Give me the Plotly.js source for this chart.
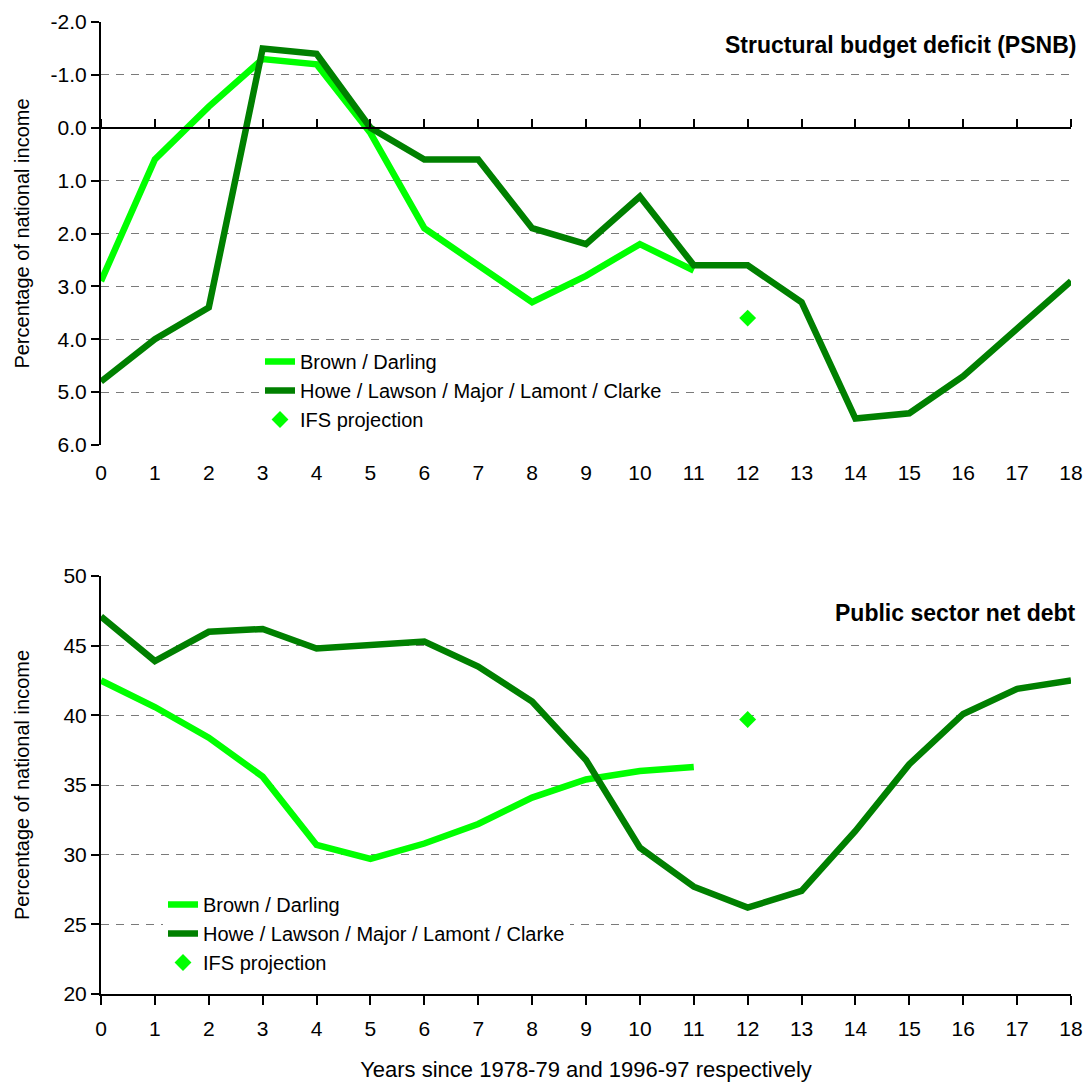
<!DOCTYPE html>
<html>
<head>
<meta charset="utf-8">
<script src="https://cdn.plot.ly/plotly-3.0.1.min.js"></script>
<style>html,body{margin:0;padding:0;background:#fff;}#chart{width:1084px;height:1084px;}</style>
</head>
<body>
<div id="chart"></div>
<script>
// ---- data ----
const years = [0,1,2,3,4,5,6,7,8,9,10,11,12,13,14,15,16,17,18];
const brownYears = [0,1,2,3,4,5,6,7,8,9,10,11];
const deficitBrown = [2.9,0.6,-0.4,-1.3,-1.2,0.1,1.9,2.6,3.3,2.8,2.2,2.7];
const deficitHowe = [4.8,4.0,3.4,-1.5,-1.4,0.0,0.6,0.6,1.9,2.2,1.3,2.6,2.6,3.3,5.5,5.4,4.7,3.8,2.9];
const debtBrown = [42.5,40.6,38.4,35.6,30.7,29.7,30.8,32.2,34.1,35.4,36.0,36.3];
const debtHowe = [47.1,43.9,46.0,46.2,44.8,45.1,45.3,43.5,41.0,36.8,30.5,27.7,26.2,27.4,31.7,36.5,40.1,41.9,42.5];
const ifsYear = [12];
const ifsDeficit = [3.6];
const ifsDebt = [39.7];
const deficitTickVals = [-2,-1,0,1,2,3,4,5,6];
const deficitTickText = ["-2.0","-1.0","0.0","1.0","2.0","3.0","4.0","5.0","6.0"];
const debtTickVals = [20,25,30,35,40,45,50];
const debtTickText = ["20","25","30","35","40","45","50"];
const seriesNames = ["Brown / Darling", "Howe / Lawson / Major / Lamont / Clarke", "IFS projection"];
const titles = ["Structural budget deficit (PSNB)", "Public sector net debt"];
const yTitle = "Percentage of national income";
const xTitle = "Years since 1978-79 and 1996-97 respectively";

const LIGHT = "#00ff00", DARK = "#008000";
const FONT = "Liberation Sans, Arial, sans-serif";

const topDom = [0.5648, 1.0];
const botDom = [0.0, 0.4300];
const topRange = [6, -2];
const zeroPos = topDom[0] + (topDom[1]-topDom[0]) * (0 - topRange[0]) / (topRange[1] - topRange[0]);

const LW = 6.5;
const traces = [
  {x: brownYears, y: deficitBrown, name: seriesNames[0], type: "scatter", mode: "lines",
   line: {color: LIGHT, width: LW}, xaxis: "x", yaxis: "y", legend: "legend"},
  {x: years, y: deficitHowe, name: seriesNames[1], type: "scatter", mode: "lines",
   line: {color: DARK, width: LW}, xaxis: "x3", yaxis: "y", legend: "legend"},
  {x: ifsYear, y: ifsDeficit, name: seriesNames[2], type: "scatter", mode: "markers",
   marker: {symbol: "diamond", color: LIGHT, size: 13}, xaxis: "x", yaxis: "y", legend: "legend"},
  {x: brownYears, y: debtBrown, name: seriesNames[0], type: "scatter", mode: "lines",
   line: {color: LIGHT, width: LW}, xaxis: "x2", yaxis: "y2", legend: "legend2"},
  {x: years, y: debtHowe, name: seriesNames[1], type: "scatter", mode: "lines",
   line: {color: DARK, width: LW}, xaxis: "x2", yaxis: "y2", legend: "legend2"},
  {x: ifsYear, y: ifsDebt, name: seriesNames[2], type: "scatter", mode: "markers",
   marker: {symbol: "diamond", color: LIGHT, size: 13}, xaxis: "x2", yaxis: "y2", legend: "legend2"}
];

const tickFont = {family: FONT, size: 21, color: "#000"};
const gridCommon = {showgrid: true, gridcolor: "#7a7a7a", gridwidth: 1, griddash: "8px,7px"};

const layout = {
  width: 1084, height: 1084,
  margin: {l: 101, r: 13, t: 22, b: 90},
  paper_bgcolor: "#fff", plot_bgcolor: "#fff",
  font: {family: FONT, size: 20, color: "#000"},
  showlegend: true,
  xaxis: {domain: [0,1], anchor: "y", range: [0,18], dtick: 1, tick0: 0,
          showline: false, ticks: "", showgrid: false, zeroline: false,
          tickfont: tickFont, ticklabelstandoff: 13},
  xaxis3: {overlaying: "x", anchor: "free", position: zeroPos, side: "top",
           range: [0,18], dtick: 1, tick0: 0, showline: true, linecolor: "#000", linewidth: 2,
           ticks: "outside", ticklen: 8, tickwidth: 2, tickcolor: "#000",
           showticklabels: false, showgrid: false, zeroline: false},
  yaxis: Object.assign({domain: topDom, anchor: "x", range: topRange,
          tickmode: "array", tickvals: deficitTickVals, ticktext: deficitTickText,
          showline: true, linecolor: "#000", linewidth: 2,
          ticks: "outside", ticklen: 8, tickwidth: 2, tickcolor: "#000",
          zeroline: false, tickfont: tickFont,
          title: {text: yTitle, font: {family: FONT, size: 20}, standoff: 16}}, gridCommon),
  xaxis2: {domain: [0,1], anchor: "y2", range: [0,18], dtick: 1, tick0: 0,
           showline: true, linecolor: "#000", linewidth: 2,
           ticks: "outside", ticklen: 9, tickwidth: 2, tickcolor: "#000",
           showgrid: false, zeroline: false, tickfont: tickFont, ticklabelstandoff: 6,
           title: {text: xTitle, font: {family: FONT, size: 22}, standoff: 22}},
  yaxis2: Object.assign({domain: botDom, anchor: "x2", range: [20,50],
           tickmode: "array", tickvals: debtTickVals, ticktext: debtTickText,
           showline: true, linecolor: "#000", linewidth: 2,
           ticks: "outside", ticklen: 8, tickwidth: 2, tickcolor: "#000",
           zeroline: false, tickfont: tickFont,
           title: {text: yTitle, font: {family: FONT, size: 20}, standoff: 28}}, gridCommon),
  legend: {x: (260-101)/970, xanchor: "left", y: (994-342)/972, yanchor: "top",
           bgcolor: "#fff", borderwidth: 0, font: {family: FONT, size: 20},
           tracegroupgap: 0, traceorder: "normal"},
  legend2: {x: (163-101)/970, xanchor: "left", y: (994-885)/972, yanchor: "top",
           bgcolor: "#fff", borderwidth: 0, font: {family: FONT, size: 20},
           tracegroupgap: 0, traceorder: "normal"},
  annotations: [
    {text: "<b>" + titles[0] + "</b>", xref: "paper", yref: "paper", x: 1.007, y: (994-45)/972,
     xanchor: "right", yanchor: "middle", showarrow: false, font: {family: FONT, size: 23}},
    {text: "<b>" + titles[1] + "</b>", xref: "paper", yref: "paper", x: 1.007, y: (994-613)/972,
     xanchor: "right", yanchor: "middle", showarrow: false, font: {family: FONT, size: 23}}
  ]
};

Plotly.newPlot("chart", traces, layout, {displayModeBar: false, staticPlot: true});
</script>
</body>
</html>
